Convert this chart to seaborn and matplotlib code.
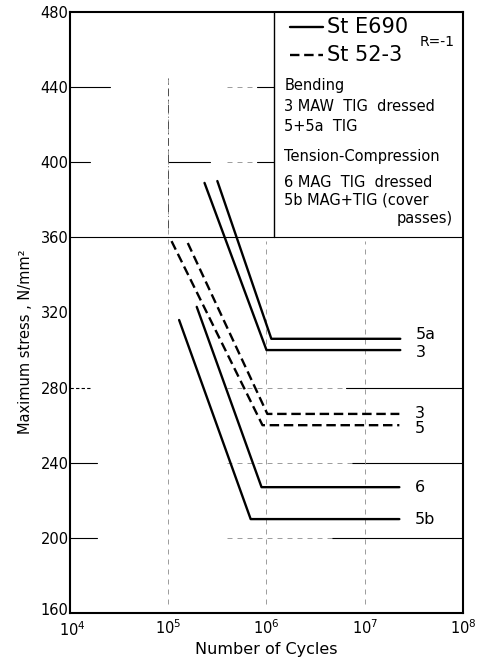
import numpy as np
import pandas as pd
import matplotlib
matplotlib.use("Agg")
import matplotlib.pyplot as plt
import matplotlib.transforms as mtransforms
import seaborn as sns

# ---- data ----
series_names = ["5a", "3", "6", "5b", "3 ", "5"]
materials    = ["StE690", "StE690", "StE690", "StE690", "St52-3", "St52-3"]
cycles = [
    [3.16e5, 1.12e6, 2.3e7],   # 5a  StE690
    [2.34e5, 1.00e6, 2.3e7],   # 3   StE690
    [1.95e5, 8.9e5, 2.25e7],   # 6   StE690
    [1.29e5, 6.9e5, 2.25e7],   # 5b  StE690
    [1.58e5, 1.02e6, 2.25e7],  # 3   St52-3
    [1.08e5, 9.1e5, 2.25e7],   # 5   St52-3
]
stress = [
    [390, 306, 306],
    [389, 300, 300],
    [323, 227, 227],
    [316, 210, 210],
    [357, 266, 266],
    [358, 260, 260],
]
y_ticks = [160, 200, 240, 280, 320, 360, 400, 440, 480]
x_ticks = [1e4, 1e5, 1e6, 1e7, 1e8]
x_ticklabels = ["$10^4$", "$10^5$", "$10^6$", "$10^7$", "$10^8$"]

rows = []
for name, mat, ns, ss in zip(series_names, materials, cycles, stress):
    for n, s in zip(ns, ss):
        rows.append({"series": name, "material": mat, "N": n, "stress": s})
df = pd.DataFrame(rows)

sns.set_theme(style="white")
plt.rcParams["font.family"] = ["DejaVu Sans"]
plt.rcParams["text.color"] = "black"
plt.rcParams["axes.labelcolor"] = "black"

fig = plt.figure(figsize=(4.85, 6.65), dpi=100)
ax = fig.add_axes([70 / 485, 52 / 665, 393 / 485, 601 / 665])
ax.set_xscale("log")
ax.set_xlim(1e4, 1e8)
ax.set_ylim(160, 480)

# ---- background grid fragments (scan style) ----
gkw = dict(color="black", lw=0.8, zorder=1)
fkw = dict(color="0.55", lw=0.6, ls=(0, (6, 6)), zorder=1)
ax.axhline(360, **gkw)
for y, x2 in [(440, 10**4.41), (400, 10**4.20), (240, 10**4.27), (200, 10**4.27)]:
    ax.plot([1e4, x2], [y, y], **gkw)
ax.plot([1e4, 10**4.22], [280, 280], color="black", lw=0.8, ls=(0, (3, 2)))
ax.plot([10**6.81, 1e8], [280, 280], **gkw)
ax.plot([10**6.87, 1e8], [240, 240], **gkw)
ax.plot([10**6.67, 1e8], [200, 200], **gkw)
ax.plot([1e5, 10**5.42], [400, 400], **gkw)
ax.plot([10**5.9, 10**6.08], [440, 440], **gkw)
ax.plot([10**5.9, 10**6.08], [400, 400], **gkw)
for y, x1, x2 in [(440, 10**5.6, 10**5.9), (400, 10**5.6, 10**5.9),
                  (280, 10**5.6, 10**6.81), (240, 10**5.6, 10**6.87),
                  (200, 10**5.6, 10**6.67)]:
    ax.plot([x1, x2], [y, y], **fkw)
for x in [1e5, 1e6, 1e7]:
    ax.plot([x, x], [165, 445 if x == 1e5 else 358], **fkw)
ax.plot([1e5, 1e5], [365, 445], color="0.3", lw=0.7, ls=(0, (8, 4, 1, 4)), zorder=1)

# ---- legend box (top right) ----
ax.plot([10**6.08, 10**6.08], [360, 480], color="black", lw=1.0)

# ---- curves ----
sns.lineplot(data=df, x="N", y="stress", units="series", style="material",
             estimator=None, sort=False, color="black", linewidth=1.7,
             dashes={"StE690": "", "St52-3": (4, 2)}, legend=False, ax=ax,
             zorder=3)

label_offsets = {"5a": 2.5, "3": -1.5, "6": 0, "5b": 0, "3 ": 0, "5": -2}
for name, ns, ss in zip(series_names, cycles, stress):
    ax.text(ns[-1] * 1.45, ss[-1] + label_offsets[name], name.strip(),
            fontsize=11.5, va="center", ha="left", color="black")

# ---- legend texts ----
T = ax.transAxes
ax.plot([0.56, 0.645], [0.975, 0.975], transform=T, color="black", lw=1.7)
ax.text(0.655, 0.975, "St E690", transform=T, fontsize=15, va="center")
ax.plot([0.56, 0.645], [0.928, 0.928], transform=T, color="black", lw=1.7,
        ls=(0, (4, 2)))
ax.text(0.655, 0.928, "St 52-3", transform=T, fontsize=15, va="center")
ax.text(0.89, 0.950, "R=-1", transform=T, fontsize=10, va="center")
legend_lines = [
    (0.877, "Bending"),
    (0.842, "3 MAW  TIG  dressed"),
    (0.810, "5+5a  TIG"),
    (0.759, "Tension-Compression"),
    (0.717, "6 MAG  TIG  dressed"),
    (0.687, "5b MAG+TIG (cover"),
]
for fy, txt in legend_lines:
    ax.text(0.545, fy, txt, transform=T, fontsize=10.5, va="center")
ax.text(0.975, 0.657, "passes)", transform=T, fontsize=10.5, va="center",
        ha="right")

# ---- axes styling ----
ax.set_xticks(x_ticks)
ax.set_xticklabels(x_ticklabels)
ax.xaxis.set_minor_locator(matplotlib.ticker.NullLocator())
ax.set_yticks(y_ticks)
ax.tick_params(axis="both", which="major", direction="in", length=4,
               width=1.0, labelsize=10.5, colors="black", pad=4)
ax.tick_params(axis="y", pad=1)
for sp in ax.spines.values():
    sp.set_color("black")
    sp.set_linewidth(1.5)
ax.set_xlabel("Number of Cycles", fontsize=11.5, labelpad=2, color="black")
ax.set_ylabel("Maximum stress , N/mm\u00b2", fontsize=10.5, color="black")
ax.yaxis.set_label_coords(-0.095, 0.451)
ax.grid(False)

# nudge the corner labels apart like in the reference
fig.canvas.draw()
ylabs = ax.get_yticklabels()
ylabs[0].set_transform(ylabs[0].get_transform() +
                       mtransforms.ScaledTranslation(0, 4 / 100, fig.dpi_scale_trans))
xlabs = ax.get_xticklabels()
xlabs[0].set_transform(xlabs[0].get_transform() +
                       mtransforms.ScaledTranslation(2 / 100, -2 / 100, fig.dpi_scale_trans))

fig.savefig("out.png", dpi=100, facecolor="white")
